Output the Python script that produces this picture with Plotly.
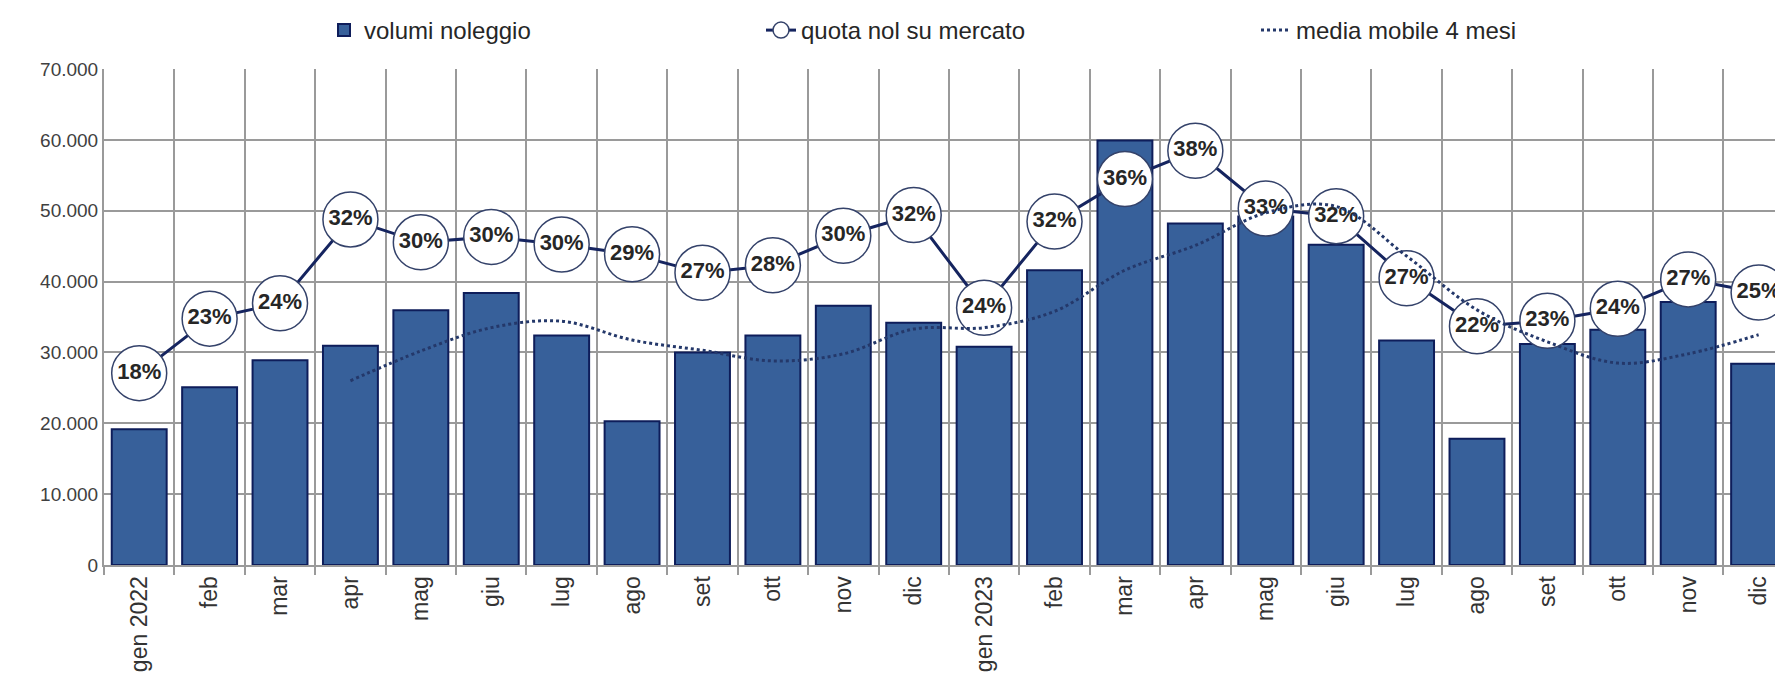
import plotly.graph_objects as go

mesi = ["gen 2022", "feb", "mar", "apr", "mag", "giu", "lug", "ago", "set", "ott", "nov", "dic",
        "gen 2023", "feb", "mar", "apr", "mag", "giu", "lug", "ago", "set", "ott", "nov", "dic"]
volumi = [19150, 25100, 28900, 30950, 35950, 38400, 32400, 20300, 30000, 32400, 36600, 34200,
          30800, 41600, 59900, 48200, 49200, 45200, 31700, 17800, 31200, 33200, 37100, 28400]
quota = [0.180, 0.230, 0.244, 0.321, 0.300, 0.305, 0.298, 0.289, 0.272, 0.279, 0.306, 0.325,
         0.240, 0.319, 0.358, 0.384, 0.331, 0.324, 0.267, 0.223, 0.228, 0.239, 0.266, 0.254]
quota_txt = ["18%", "23%", "24%", "32%", "30%", "30%", "30%", "29%", "27%", "28%", "30%", "32%",
             "24%", "32%", "36%", "38%", "33%", "32%", "27%", "22%", "23%", "24%", "27%", "25%"]
media_mobile = [None, None, None, 26000, 30200, 33500, 34400, 31750, 30300, 28800, 29800, 33300,
                33500, 35800, 41600, 45100, 49700, 50600, 43600, 36000, 31500, 28500, 29800, 32500]

idx = list(range(len(mesi)))
FONT = "Liberation Sans, Arial, sans-serif"
GRID = "#9a9a9a"

fig = go.Figure()
fig.add_trace(go.Bar(
    x=idx, y=volumi, name="volumi noleggio", legend="legend",
    marker=dict(color="#37609a", line=dict(color="#0e1d5a", width=2)),
))
fig.add_trace(go.Scatter(
    x=idx, y=quota, yaxis="y2", name="quota nol su mercato", legend="legend2",
    mode="lines+markers",
    line=dict(color="#15245f", width=3),
    marker=dict(size=55, color="white", line=dict(color="#34426a", width=1.5)),
))
fig.add_trace(go.Scatter(
    x=idx, y=quota, yaxis="y2", mode="text", text=quota_txt, showlegend=False,
    textposition="middle center",
    textfont=dict(family=FONT, size=22, color="#262626", weight="bold"),
))
fig.add_trace(go.Scatter(
    x=idx, y=media_mobile, yaxis="y3", name="media mobile 4 mesi", legend="legend3",
    mode="lines", connectgaps=False,
    line=dict(color="#24386a", width=3, dash="dot", shape="spline", smoothing=1.0),
))

W, H = 1783, 681
L, T, B = 96, 61, 124
PW, PH = W - L, H - T - B


def lx(px):
    return (px - L) / PW


LEG_Y = 1 + (T - 22) / PH
leg_font = dict(size=24, color="#262626")

fig.update_layout(
    width=W, height=H,
    paper_bgcolor="white", plot_bgcolor="white",
    margin=dict(l=L, r=0, t=T, b=B),
    separators=",.",
    bargap=0.22,
    font=dict(family=FONT, size=20, color="#404040"),
    xaxis=dict(
        range=[-0.5, 23.46], tickmode="array", tickvals=idx, ticktext=mesi,
        tickangle=-90, showgrid=False, ticks="", zeroline=False,
        tickfont=dict(size=23, color="#333333"),
        showline=True, linecolor=GRID, linewidth=2,
        minor=dict(tickmode="array", tickvals=[i - 0.5 for i in range(25)],
                   showgrid=True, gridcolor=GRID, gridwidth=2,
                   ticks="outside", ticklen=8, tickcolor=GRID, tickwidth=2),
    ),
    yaxis=dict(
        range=[0, 70000], dtick=10000, tickformat=",d",
        showgrid=True, gridcolor=GRID, gridwidth=2, zeroline=False,
        showline=True, linecolor=GRID, linewidth=2,
        ticks="", tickfont=dict(size=19, color="#404040"),
    ),
    yaxis2=dict(overlaying="y", range=[0.004, 0.459], visible=False),
    yaxis3=dict(overlaying="y", range=[0, 70000], visible=False),
    legend=dict(orientation="h", x=lx(316), xanchor="left", y=LEG_Y, yanchor="middle",
                font=leg_font, bgcolor="rgba(0,0,0,0)"),
    legend2=dict(orientation="h", x=lx(753), xanchor="left", y=LEG_Y, yanchor="middle",
                 font=leg_font, bgcolor="rgba(0,0,0,0)"),
    legend3=dict(orientation="h", x=lx(1248), xanchor="left", y=LEG_Y, yanchor="middle",
                 font=leg_font, bgcolor="rgba(0,0,0,0)"),
)

fig.write_html("out.html")
